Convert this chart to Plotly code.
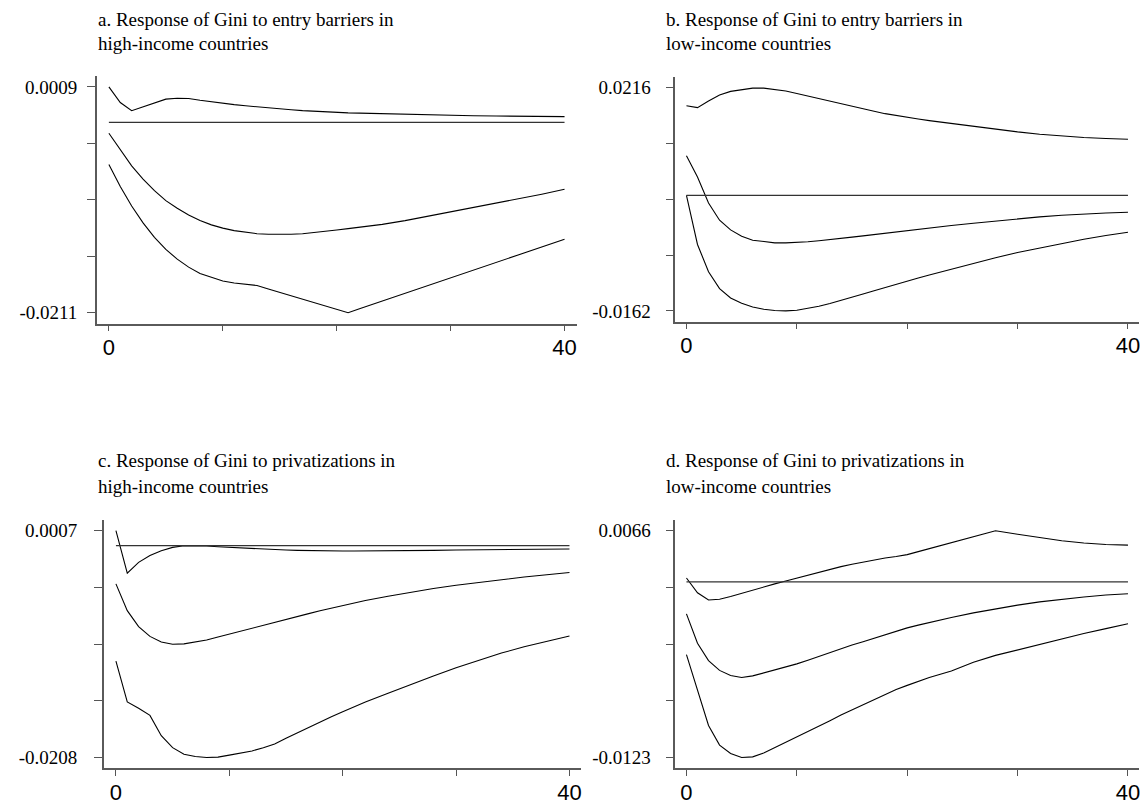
import plotly.graph_objects as go
import numpy as np

# horizon steps (periods after the shock)
steps = list(range(0, 23)) + list(range(24, 41, 2))

# ---- a. entry barriers, high-income ----
a_upper = [0.00090, -0.00062, -0.00142, -0.00104, -0.00065, -0.00029, -0.00020, -0.00023, -0.00040, -0.00056,
           -0.00071, -0.00083, -0.00094, -0.00105, -0.00115, -0.00124, -0.00133, -0.00141, -0.00148, -0.00154,
           -0.00159, -0.00163, -0.00166, -0.00172, -0.00178, -0.00184, -0.00187, -0.00191, -0.00194, -0.00197,
           -0.00199, -0.00200]
a_irf = [-0.00362, -0.00527, -0.00679, -0.00808, -0.00921, -0.01018, -0.01092, -0.01157, -0.01212, -0.01254,
         -0.01286, -0.01310, -0.01328, -0.01340, -0.01346, -0.01348, -0.01346, -0.01340, -0.01330, -0.01318,
         -0.01304, -0.01291, -0.01278, -0.01249, -0.01213, -0.01171, -0.01129, -0.01087, -0.01045, -0.01000,
         -0.00955, -0.00907]
a_lower = [-0.00665, -0.00880, -0.01070, -0.01235, -0.01375, -0.01493, -0.01588, -0.01666, -0.01728, -0.01765,
           -0.01800, -0.01820, -0.01835, -0.01845, -0.01878, -0.01911, -0.01944, -0.01978, -0.02011, -0.02044,
           -0.02077, -0.02110, -0.02072, -0.01997, -0.01921, -0.01846, -0.01771, -0.01695, -0.01620, -0.01545,
           -0.01469, -0.01394]
a_base = -0.00255

# ---- b. entry barriers, low-income ----
b_upper = [0.01856, 0.01823, 0.01935, 0.02036, 0.02098, 0.02132, 0.02154, 0.02154, 0.02132, 0.02104,
           0.02064, 0.02019, 0.01980, 0.01935, 0.01890, 0.01845, 0.01800, 0.01761, 0.01721, 0.01688,
           0.01659, 0.01631, 0.01603, 0.01553, 0.01502, 0.01457, 0.01412, 0.01373, 0.01339, 0.01316,
           0.01299, 0.01288]
b_irf = [0.01007, 0.00647, 0.00208, -0.00084, -0.00248, -0.00354, -0.00422, -0.00450, -0.00467, -0.00467,
         -0.00461, -0.00450, -0.00433, -0.00416, -0.00394, -0.00371, -0.00349, -0.00326, -0.00304, -0.00281,
         -0.00259, -0.00236, -0.00214, -0.00174, -0.00135, -0.00096, -0.00062, -0.00028, 0.00000, 0.00022,
         0.00039, 0.00051]
b_lower = [0.00338, -0.00495, -0.00956, -0.01243, -0.01401, -0.01491, -0.01553, -0.01592, -0.01614, -0.01620,
           -0.01609, -0.01581, -0.01541, -0.01496, -0.01446, -0.01389, -0.01333, -0.01277, -0.01221, -0.01164,
           -0.01114, -0.01063, -0.01013, -0.00911, -0.00810, -0.00720, -0.00630, -0.00551, -0.00473, -0.00405,
           -0.00343, -0.00287]
b_base = 0.00338

# ---- c. privatizations, high-income ----
c_upper = [0.00070, -0.00332, -0.00230, -0.00165, -0.00119, -0.00088, -0.00072, -0.00072, -0.00075, -0.00082,
           -0.00088, -0.00091, -0.00097, -0.00103, -0.00106, -0.00113, -0.00116, -0.00119, -0.00122, -0.00122,
           -0.00122, -0.00122, -0.00122, -0.00122, -0.00119, -0.00116, -0.00113, -0.00110, -0.00106, -0.00103,
           -0.00103, -0.00103]
c_irf = [-0.00434, -0.00688, -0.00839, -0.00932, -0.00985, -0.01007, -0.01003, -0.00988, -0.00966, -0.00938,
         -0.00911, -0.00883, -0.00855, -0.00827, -0.00799, -0.00771, -0.00744, -0.00716, -0.00688, -0.00663,
         -0.00638, -0.00615, -0.00592, -0.00552, -0.00512, -0.00478, -0.00447, -0.00419, -0.00394, -0.00369,
         -0.00348, -0.00326]
c_lower = [-0.01167, -0.01554, -0.01613, -0.01681, -0.01873, -0.01987, -0.02049, -0.02071, -0.02080, -0.02077,
           -0.02058, -0.02040, -0.02018, -0.01987, -0.01953, -0.01898, -0.01845, -0.01793, -0.01740, -0.01693,
           -0.01647, -0.01600, -0.01554, -0.01471, -0.01387, -0.01307, -0.01229, -0.01158, -0.01090, -0.01031,
           -0.00979, -0.00929]
c_base = -0.00072

# ---- d. privatizations, low-income ----
d_upper = [0.00266, 0.00143, 0.00083, 0.00089, 0.00111, 0.00138, 0.00168, 0.00192, 0.00217, 0.00241,
           0.00266, 0.00290, 0.00312, 0.00336, 0.00361, 0.00380, 0.00399, 0.00415, 0.00432, 0.00445,
           0.00461, 0.00486, 0.00511, 0.00561, 0.00611, 0.00660, 0.00630, 0.00601, 0.00576, 0.00558,
           0.00545, 0.00540]
d_irf = [-0.00033, -0.00278, -0.00422, -0.00504, -0.00547, -0.00564, -0.00550, -0.00526, -0.00501, -0.00477,
         -0.00450, -0.00420, -0.00387, -0.00354, -0.00322, -0.00292, -0.00265, -0.00235, -0.00207, -0.00178,
         -0.00150, -0.00127, -0.00104, -0.00063, -0.00025, 0.00010, 0.00040, 0.00067, 0.00089, 0.00108,
         0.00124, 0.00135]
d_lower = [-0.00373, -0.00673, -0.00963, -0.01127, -0.01197, -0.01230, -0.01225, -0.01192, -0.01148, -0.01105,
           -0.01061, -0.01015, -0.00969, -0.00923, -0.00876, -0.00833, -0.00789, -0.00746, -0.00702, -0.00664,
           -0.00629, -0.00596, -0.00564, -0.00509, -0.00436, -0.00379, -0.00333, -0.00286, -0.00240, -0.00197,
           -0.00156, -0.00115]
d_base = 0.00233

titles = [
    ("a. Response of Gini to entry barriers in", "high-income countries"),
    ("b. Response of Gini to entry barriers in", "low-income countries"),
    ("c. Response of Gini to privatizations in", "high-income countries"),
    ("d. Response of Gini to privatizations in", "low-income countries"),
]
ytick_ends = [(0.0009, -0.0211), (0.0216, -0.0162), (0.0007, -0.0208), (0.0066, -0.0123)]
ytick_text = [("0.0009", "-0.0211"), ("0.0216", "-0.0162"), ("0.0007", "-0.0208"), ("0.0066", "-0.0123")]
xtick_vals = [0, 10, 20, 30, 40]
xtick_text = ["0", "", "", "", "40"]

panels = [
    (a_upper, a_irf, a_lower, a_base),
    (b_upper, b_irf, b_lower, b_base),
    (c_upper, c_irf, c_lower, c_base),
    (d_upper, d_irf, d_lower, d_base),
]

# the page body has an 8px margin, so the figure is placed 8px in from the window corner
OFF = 8
W, H = 1148 - OFF, 805 - OFF
# window-pixel layout of the four plot boxes: (left, right, top, bottom)
boxes = [(97, 577, 77, 328), (676, 1140, 78, 326), (104, 582, 527, 779), (676, 1140, 527, 779)]
xranges = [[-1.05, 41.05], [-1.0, 41.0], [-1.06, 41.06], [-1.0, 41.0]]
ystandoff = [6, 11, 13, 11]
title_x = [97, 666, 97, 666]
title_y = [(19.5, 44.5), (19.5, 44.5), (467, 493), (467, 493)]

fig = go.Figure()
serif = "Liberation Serif, Times New Roman, serif"
sans = "Liberation Sans, Arial, sans-serif"
axis_col = "#5a5a5a"

for i, (up, irf, lo, base) in enumerate(panels):
    n = i + 1
    xa = "x" if n == 1 else f"x{n}"
    ya = "y" if n == 1 else f"y{n}"
    for series in (up, irf, lo):
        fig.add_trace(go.Scatter(x=steps, y=series, mode="lines", xaxis=xa, yaxis=ya,
                                 line=dict(color="black", width=1.1), showlegend=False, hoverinfo="skip"))
    fig.add_trace(go.Scatter(x=[steps[0], steps[-1]], y=[base, base], mode="lines", xaxis=xa, yaxis=ya,
                             line=dict(color="#333333", width=1.2), showlegend=False, hoverinfo="skip"))

    l, r, t, b = [v - OFF for v in boxes[i]]
    top, bot = ytick_ends[i]
    span = top - bot
    yr = [bot - 0.048 * span, top + 0.048 * span]
    yt = list(np.linspace(top, bot, 5))
    ytt = [ytick_text[i][0], "", "", "", ytick_text[i][1]]
    xkey = "xaxis" if n == 1 else f"xaxis{n}"
    ykey = "yaxis" if n == 1 else f"yaxis{n}"
    fig.update_layout({
        xkey: dict(domain=[l / W, r / W], anchor=ya, range=xranges[i], showgrid=False, zeroline=False,
                   showline=True, linecolor=axis_col, linewidth=1.6, ticks="outside", ticklen=6,
                   tickwidth=1.2, tickcolor="#555555", tickvals=xtick_vals, ticktext=xtick_text,
                   ticklabelstandoff=-3,
                   tickfont=dict(family=sans, size=22, color="black")),
        ykey: dict(domain=[1 - b / H, 1 - t / H], anchor=xa, range=yr, showgrid=False, zeroline=False,
                   showline=True, linecolor=axis_col, linewidth=1.6, ticks="outside", ticklen=8,
                   tickwidth=1.2, tickcolor="#555555", tickvals=yt, ticktext=ytt,
                   ticklabelstandoff=ystandoff[i],
                   tickfont=dict(family=serif, size=19, color="black")),
    })
    for line_txt, yy in zip(titles[i], title_y[i]):
        fig.add_annotation(text=line_txt, xref="paper", yref="paper", x=(title_x[i] - OFF) / W,
                           y=1 - (yy - OFF) / H, xanchor="left", yanchor="middle", showarrow=False,
                           borderpad=0, font=dict(family=serif, size=19, color="black"))

fig.update_layout(width=W, height=H, margin=dict(l=0, r=0, t=0, b=0),
                  paper_bgcolor="white", plot_bgcolor="white")
fig.write_html("out.html")
